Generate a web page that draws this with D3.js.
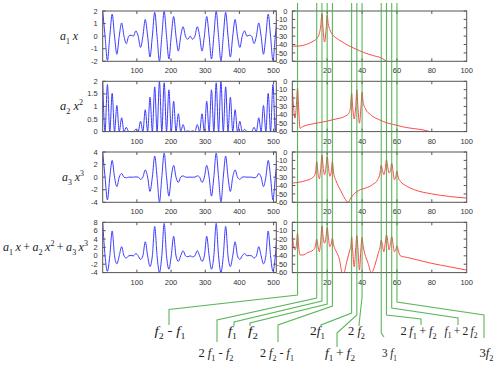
<!DOCTYPE html>
<html><head><meta charset="utf-8">
<script src="https://cdn.jsdelivr.net/npm/d3@7"></script>
<style>body{margin:0;background:#fff}svg{display:block}</style>
</head><body><svg id="c" width="500" height="368"></svg>
<script>
// ---------------- DATA ----------------
// time instants of the carrier extrema / zero crossings (samples)
const sampleTimes = [0,6.9,13.8,20.8,27.7,34.6,41.5,48.4,55.4,62.3,69.2,76.1,83.0,89.9,96.9,103.8,110.7,117.6,124.5,131.5,138.4,145.3,152.2,159.1,166.1,173.0,179.9,186.8,193.7,200.6,207.6,214.5,221.4,228.3,235.2,242.2,249.1,256.0,262.9,269.8,276.8,283.7,290.6,297.5,304.4,311.4,318.3,325.2,332.1,339.0,346.0,352.9,359.8,366.7,373.6,380.5,387.5,394.4,401.3,408.2,415.1,422.1,429.0,435.9,442.8,449.7,456.6,463.6,470.5,477.4,484.3,491.2,498.2,505.1,512.0];
const seriesLinear = [2.00,0,-1.94,0,1.75,0,-1.44,0,1.05,0,-0.59,0,0.08,0,0.42,0,-0.90,0,1.32,0,-1.66,0,1.89,0,-1.99,0,1.97,0,-1.82,0,1.56,0,-1.19,0,0.75,0,-0.25,0,-0.25,0,0.75,0,-1.19,0,1.56,0,-1.82,0,1.97,0,-1.99,0,1.89,0,-1.66,0,1.32,0,-0.90,0,0.42,0,0.08,0,-0.59,0,1.05,0,-1.44,0,1.75,0,-1.94,0,2.00];
const seriesSquare = [2.00,0,1.87,0,1.52,0,1.04,0,0.55,0,0.17,0,0.00,0,0.09,0,0.41,0,0.87,0,1.37,0,1.78,0,1.99,0,1.94,0,1.66,0,1.21,0,0.71,0,0.28,0,0.03,0,0.03,0,0.28,0,0.71,0,1.21,0,1.66,0,1.94,0,1.99,0,1.78,0,1.37,0,0.87,0,0.41,0,0.09,0,0.00,0,0.17,0,0.55,0,1.04,0,1.52,0,1.87,0,2.00];
const seriesCube = [4.00,0,-3.62,0,2.66,0,-1.51,0,0.58,0,-0.10,0,0.00,0,0.04,0,-0.36,0,1.15,0,-2.27,0,3.35,0,-3.96,0,3.83,0,-3.02,0,1.88,0,-0.84,0,0.21,0,-0.01,0,-0.01,0,0.21,0,-0.84,0,1.88,0,-3.02,0,3.83,0,-3.96,0,3.35,0,-2.27,0,1.15,0,-0.36,0,0.04,0,0.00,0,-0.10,0,0.58,0,-1.51,0,2.66,0,-3.62,0,4.00];
const seriesSum = [8.00,0,-3.69,0,5.93,0,-1.91,0,2.18,0,-0.52,0,0.08,0,0.55,0,-0.86,0,3.35,0,-2.56,0,7.02,0,-3.97,0,7.74,0,-3.19,0,4.65,0,-1.32,0,1.23,0,-0.23,0,-0.23,0,1.23,0,-1.32,0,4.65,0,-3.19,0,7.74,0,-3.97,0,7.02,0,-2.56,0,3.35,0,-0.86,0,0.55,0,0.08,0,-0.52,0,2.18,0,-1.91,0,5.93,0,-3.69,0,8.00];

// spectra (frequency, dB)
const specLinearF  = [0,4,8,12,14,15.5,16.3,17,17.6,18.5,19.4,20,20.6,21.5,23,25,28,32,36,41,46,51,54];
const specLinearDb = [-42,-41.7,-40,-36,-33,-27,-18,-3,-20,-37,-22,-5,-15,-22,-28,-32,-36,-41,-45,-49.5,-53,-56,-60];
const specSquareF  = [0,0.7,1.5,2.3,3,3.7,4.4,6,10,15,20,25,30,32.5,33.4,34,34.6,35.5,36.4,37,37.6,38.5,39.4,40,40.6,42,45,50,55,60,65,70,75,79];
const specSquareDb = [-9,-30,-44,-30,-8,-35,-56,-54,-51.5,-49.5,-47.5,-45,-42,-38,-30,-14,-30,-45,-30,-10,-30,-50,-30,-13,-25,-33,-40,-46,-50,-52.5,-55,-56.5,-58,-60];
const specCubeF  = [0,4,8,12,13.3,14,14.7,15.5,16.3,17,17.7,18.5,19.3,20,20.7,21.5,22.3,23,23.7,25,27.5,30,32,33.5,35,38,42,46,49,50.3,51,51.7,52.5,53.3,54,54.7,55.5,56.3,57,57.7,58.5,59.3,60,60.7,62,65,70,80,90,100];
const specCubeDb = [-37,-36,-34,-30,-25,-11.5,-24,-32,-20,-3.6,-18,-27,-18,-5.6,-18,-29,-24,-11.5,-25,-34,-45,-55,-60,-55,-51,-46,-43,-39,-33,-25,-15.5,-22,-27,-20,-9.5,-18,-25,-22,-13.5,-22,-33,-30,-23,-30,-35,-40,-45,-50,-53,-55];
const specSumF  = [0,0.7,1.5,2.3,3,3.7,4.5,6,9,12,13.3,14,14.7,15.5,16.3,17,17.7,18.5,19.3,20,20.7,21.5,22.3,23,23.8,25,27,28.6,29.6,31.2,33,33.6,34,34.5,35.5,36.4,37,37.6,38.5,39.4,40,40.6,41.5,43.5,45.3,46.2,47.4,49.3,50.3,51,51.7,52.5,53.3,54,54.7,55.5,56.3,57,57.7,58.5,59.3,60,60.7,62,66,70,80,90,100];
const specSumDb = [-13,-28,-33,-28,-13,-30,-39,-39,-36,-33,-28,-20,-28,-35,-22,-4.4,-18,-25,-18,-6,-18,-29,-26,-19,-28,-34,-44,-60,-60,-47,-33,-28,-17,-30,-53,-30,-16,-30,-57,-30,-18,-28,-37,-49,-60,-58,-51,-37,-30,-21,-28,-35,-25,-15,-22,-33,-25,-17,-25,-35,-33,-28,-33,-40,-42,-44,-49,-53,-57];

const timeTicks = [100,200,300,400,500];
const freqTicks = [20,40,60,80,100];
const dbTicks = [0,-10,-20,-30,-40,-50,-60];
const leftYTicks = [[-2,-1,0,1,2],[0,0.5,1,1.5,2],[-4,-2,0,2,4],[-4,-2,0,2,4,6,8]];
const leftYDomains = [[-2,2],[0,2],[-4,4],[-4,8]];
const f1 = 17, f2 = 20;
// harmonic components: freq = m*f1 + n*f2
const harmonicNames = ['f2-f1','2f1-f2','f1','f2','2f2-f1','2f1','f1+f2','2f2','3f1','2f1+f2','f1+2f2','3f2'];
const harmonicM = [-1,2,1,0,-1,2,1,0,3,2,1,0];
const harmonicN = [1,-1,0,1,2,0,1,2,0,1,2,3];

// ---------------- LAYOUT ----------------
const svg = d3.select('#c');
const L = {x0:102.7, x1:276.3}, R = {x0:292.3, x1:466.7};
const tops = [11, 81.3, 152, 222.3], H = 50.3;
const xL = d3.scaleLinear().domain([0,508]).range([L.x0, L.x1]);
const xR = d3.scaleLinear().domain([0,100]).range([R.x0, R.x1]);
const tickFont = '"Liberation Sans", Arial, sans-serif';
const serif = '"Liberation Serif", "Times New Roman", serif';
const frameColor = '#555', tickTextColor = '#333';
const TS = '\u2009'; // thin space

const timeSeries = [seriesLinear, seriesSquare, seriesCube, seriesSum];
const specF = [specLinearF, specSquareF, specCubeF, specSumF];
const specDb = [specLinearDb, specSquareDb, specCubeDb, specSumDb];

const defs = svg.append('defs');

function richText(g, x, y, segs, size, anchor, width) {
  const t = g.append('text').attr('x', x).attr('y', y)
    .attr('font-family', serif).attr('font-size', size)
    .attr('text-anchor', anchor || 'start').attr('fill', '#222')
    .style('white-space', 'pre');
  let shift = 0;
  segs.forEach(([s, st]) => {
    const ts = t.append('tspan').text(s);
    let target = 0;
    if (st === 'sub') { target = size * 0.28; ts.attr('font-size', size * 0.66); }
    else if (st === 'sup') { target = -size * 0.42; ts.attr('font-size', size * 0.66); }
    if (st === 'i') ts.attr('font-style', 'italic');
    if (target - shift !== 0) ts.attr('dy', target - shift);
    shift = target;
  });
  if (width) t.attr('textLength', width).attr('lengthAdjust', 'spacingAndGlyphs');
  return t;
}

function frameTicks(g, x0, x1, y0, y1, xs, xticks, ys, yticks) {
  const tl = 3;
  xticks.forEach(v => {
    const x = xs(v);
    if (x <= x0 + 0.5 || x >= x1 - 0.5) return;
    g.append('line').attr('x1', x).attr('x2', x).attr('y1', y0).attr('y2', y0 + tl).attr('stroke', frameColor);
    g.append('line').attr('x1', x).attr('x2', x).attr('y1', y1).attr('y2', y1 - tl).attr('stroke', frameColor);
  });
  yticks.forEach(v => {
    const y = ys(v);
    g.append('line').attr('x1', x0).attr('x2', x0 + tl).attr('y1', y).attr('y2', y).attr('stroke', frameColor);
    g.append('line').attr('x1', x1).attr('x2', x1 - tl).attr('y1', y).attr('y2', y).attr('stroke', frameColor);
  });
  g.append('rect').attr('x', x0).attr('y', y0).attr('width', x1 - x0).attr('height', y1 - y0)
    .attr('fill', 'none').attr('stroke', frameColor).attr('stroke-width', 1);
}

for (let p = 0; p < 4; p++) {
  const y0 = tops[p], y1 = tops[p] + H;
  // ---- left: time signal ----
  const yL = d3.scaleLinear().domain(leftYDomains[p]).range([y1, y0]);
  defs.append('clipPath').attr('id', 'cl' + p).append('rect')
    .attr('x', L.x0).attr('y', y0 - 0.5).attr('width', L.x1 - L.x0).attr('height', H + 1);
  const gL = svg.append('g');
  const pts = sampleTimes.map((t, i) => [t, timeSeries[p][i]]);
  gL.append('path').attr('clip-path', 'url(#cl' + p + ')')
    .attr('d', d3.line().x(d => xL(d[0])).y(d => yL(d[1])).curve(d3.curveMonotoneX)(pts))
    .attr('fill', 'none').attr('stroke', '#3b3bff').attr('stroke-width', 1);
  frameTicks(gL, L.x0, L.x1, y0, y1, xL, timeTicks, yL, leftYTicks[p]);
  leftYTicks[p].forEach(v => {
    gL.append('text').attr('x', L.x0 - 5).attr('y', yL(v) + 2.6).attr('text-anchor', 'end')
      .attr('font-family', tickFont).attr('font-size', 7.5).attr('fill', tickTextColor).text(String(v));
  });
  timeTicks.forEach(v => {
    gL.append('text').attr('x', xL(v)).attr('y', y1 + 12).attr('text-anchor', 'middle')
      .attr('font-family', tickFont).attr('font-size', 7.5).attr('fill', tickTextColor).text(String(v));
  });

  // ---- right: spectrum ----
  const yR = d3.scaleLinear().domain([-60, 0]).range([y1, y0]);
  defs.append('clipPath').attr('id', 'cr' + p).append('rect')
    .attr('x', R.x0).attr('y', y0).attr('width', R.x1 - R.x0).attr('height', H);
  const gR = svg.append('g');
  const sp = specF[p].map((f, i) => [f, specDb[p][i]]);
  gR.append('path').attr('clip-path', 'url(#cr' + p + ')')
    .attr('d', d3.line().x(d => xR(d[0])).y(d => yR(d[1])).curve(d3.curveMonotoneX)(sp))
    .attr('fill', 'none').attr('stroke', '#ff4a4a').attr('stroke-width', 1);
  frameTicks(gR, R.x0, R.x1, y0, y1, xR, freqTicks, yR, dbTicks);
  dbTicks.forEach(v => {
    gR.append('text').attr('x', R.x0 - 5).attr('y', yR(v) + 2.6).attr('text-anchor', 'end')
      .attr('font-family', tickFont).attr('font-size', 7.5).attr('fill', tickTextColor).text(String(v));
  });
  freqTicks.forEach(v => {
    gR.append('text').attr('x', xR(v)).attr('y', y1 + 12).attr('text-anchor', 'middle')
      .attr('font-family', tickFont).attr('font-size', 7.5).attr('fill', tickTextColor).text(String(v));
  });
}

// ---- left panel labels ----
const lab = svg.append('g');
richText(lab, 60, tops[0] + H / 2 + 4, [['a','i'],['1','sub'],[' x','i']], 12, 'start', 18);
richText(lab, 60, tops[1] + H / 2 + 4, [['a','i'],['2','sub'],[' x','i'],['2','sup']], 12, 'start', 23);
richText(lab, 62, tops[2] + H / 2 + 4, [['a','i'],['3','sub'],[' x','i'],['3','sup']], 12, 'start', 22);
richText(lab, 3, tops[3] + H / 2 + 4, [['a','i'],['1','sub'],[TS+'x','i'],[TS+'+'+TS,''],['a','i'],['2','sub'],[TS+'x','i'],['2','sup'],[TS+'+'+TS,''],['a','i'],['3','sub'],[TS+'x','i'],['3','sup']], 12, 'start', 85);

// ---- green connectors & harmonic labels ----
const row1 = 335, row2 = 357;
const conn = {
  'f2-f1':  {v:295, dx:169, dy:309.5, end:325, lx:170, w:31, fs:13, row:row1, segs:[['f','i'],['2','sub'],[' - ',''],['f','i'],['1','sub']]},
  '2f1-f2': {v:298, dx:217, dy:320, end:342, lx:216, w:35, fs:13, row:row2, segs:[['2 ',''],['f','i'],['1','sub'],[' - ',''],['f','i'],['2','sub']]},
  'f1':     {v:301, dx:234, dy:322, end:326, lx:232.5, w:9, fs:13, row:row1, segs:[['f','i'],['1','sub']]},
  'f2':     {v:304, dx:250, dy:323, end:326, lx:253, w:10, fs:13, row:row1, segs:[['f','i'],['2','sub']]},
  '2f2-f1': {v:306, dx:278, dy:325, end:342, lx:277, w:34, fs:13, row:row2, segs:[['2 ',''],['f','i'],['2','sub'],[' - ',''],['f','i'],['1','sub']]},
  '2f1':    {v:313, dx:321, dy:325, end:326, lx:317.5, w:15, fs:13, row:row1, segs:[['2',''],['f','i'],['1','sub']]},
  'f1+f2':  {v:315, dx:337, dy:333, end:347, lx:340, w:30, fs:13, row:row2, segs:[['f','i'],['1','sub'],[TS+'+'+TS,''],['f','i'],['2','sub']]},
  '2f2':    {v:297, dx:359, dy:325, end:326, lx:356.5, w:17, fs:13, row:row1, segs:[['2 ',''],['f','i'],['2','sub']]},
  '3f1':    {v:333, dx:384, dy:337, end:337, lx:389.5, w:15, fs:13, row:row2, segs:[['3 ',''],['f','i'],['1','sub']]},
  '2f1+f2': {v:315, dx:421, dy:319, end:325, lx:418.5, w:36, fs:13, row:row1, segs:[['2'+TS,''],['f','i'],['1','sub'],[TS+'+'+TS,''],['f','i'],['2','sub']]},
  'f1+2f2': {v:308, dx:458, dy:318, end:325, lx:461, w:33, fs:12, row:row1, segs:[['f','i'],['1','sub'],[TS+'+'+TS+'2'+TS,''],['f','i'],['2','sub']]},
  '3f2':    {v:302, dx:484, dy:315, end:338, lx:486.5, w:14, fs:13, row:row2, segs:[['3',''],['f','i'],['2','sub']]}
};
const gG = svg.append('g');
harmonicNames.forEach((name, i) => {
  const freq = harmonicM[i] * f1 + harmonicN[i] * f2;
  const x = xR(freq), c = conn[name];
  gG.append('path').attr('d', `M${x},3V${c.v}L${c.dx},${c.dy}V${c.end}`)
    .attr('fill', 'none').attr('stroke', '#3faa3f').attr('stroke-width', 1.1).attr('stroke-opacity', 0.85);
  richText(gG, c.lx, c.row, c.segs, c.fs, 'middle', c.w);
});
</script></body></html>
